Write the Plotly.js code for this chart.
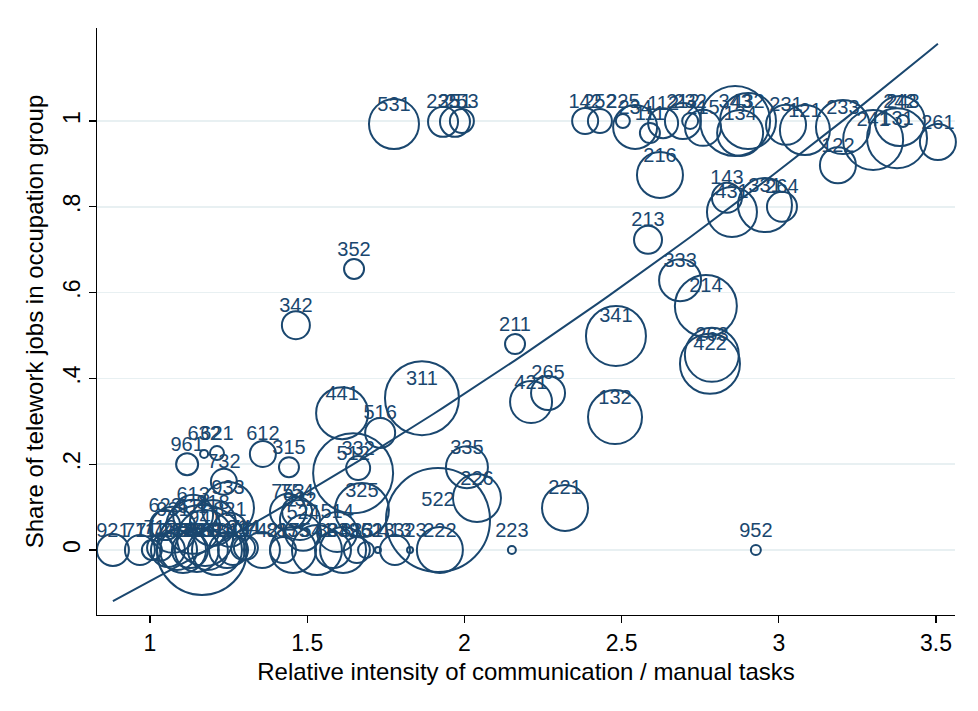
<!DOCTYPE html>
<html>
<head>
<meta charset="utf-8">
<script src="https://cdn.plot.ly/plotly-3.0.1.min.js"></script>
<style>
  html, body { margin: 0; padding: 0; background: #ffffff; }
  #chart { width: 978px; height: 711px; }
</style>
</head>
<body>
<div id="chart"></div>
<script>
// ISCO 3-digit occupation groups
const occCodes = [
  '142','252','225','234','111','216','112','212','232','215','343','432','134','231','121','233','122',
  '242','243','241','131','261',
  '143','431','331','264',
  '213','333','214','263','422','211','341','421','265','132',
  '531','235','251','253',
  '342','352','441','516','311','315','512','332','325','335','226','522','222','223','221','952',
  '612','961','632','621','732','933','613',
  '921','711','712','713','721','722','723','731','751','911','752','811','812','813','814',
  '931','611','818','821','622','941',
  '741','742','817','835','541','834','832','833','962','513','413','323',
  '753','754','932','524','514'
];

// Relative intensity of communication / manual tasks
const commManual = [
  2.384,2.431,2.504,2.543,2.590,2.622,2.632,2.695,2.718,2.759,2.861,2.902,2.877,3.023,3.083,3.204,3.188,
  3.385,3.395,3.300,3.376,3.506,
  2.835,2.851,2.956,3.010,
  2.584,2.686,2.768,2.787,2.781,2.161,2.482,2.212,2.266,2.479,
  1.776,1.932,1.970,1.992,
  1.464,1.649,1.611,1.732,1.865,1.442,1.646,1.662,1.674,2.008,2.040,1.916,1.922,2.151,2.320,2.927,
  1.359,1.118,1.172,1.213,1.235,1.248,1.137,
  0.882,0.968,1.006,1.032,1.057,1.086,1.105,1.127,1.149,1.165,1.184,1.213,1.245,1.264,1.296,
  1.073,1.137,1.200,1.254,1.048,1.175,
  1.305,1.356,1.423,1.455,1.531,1.582,1.614,1.658,1.687,1.725,1.779,1.827,
  1.439,1.468,1.477,1.487,1.595
];

// Share of telework jobs in occupation group
const teleShare = [
  1.000,1.000,1.000,0.986,0.972,0.874,0.995,1.000,1.000,0.984,1.000,1.000,0.972,0.991,0.979,0.986,0.897,
  1.000,1.000,0.956,0.960,0.951,
  0.821,0.788,0.804,0.800,
  0.723,0.629,0.569,0.455,0.434,0.480,0.499,0.345,0.366,0.310,
  0.993,0.998,0.998,1.000,
  0.524,0.655,0.319,0.273,0.354,0.193,0.179,0.191,0.093,0.193,0.121,0.070,0.000,0.000,0.098,0.000,
  0.224,0.200,0.224,0.226,0.159,0.098,0.082,
  0.000,0.000,0.000,0.005,0.000,0.000,0.000,0.000,0.000,0.000,0.000,0.000,0.000,0.000,0.005,
  0.047,0.054,0.063,0.047,0.058,0.028,
  0.005,0.000,0.000,0.000,0.000,0.000,0.000,0.000,0.000,0.000,0.000,0.000,
  0.089,0.089,0.070,0.040,0.042
];

// Employment weight of each group (bubble area)
const employment = [
  338,288,98,968,200,1058,450,648,128,648,2450,1568,1058,800,1250,1458,648,
  1250,72,1800,1800,648,
  450,1250,1458,450,
  392,882,1922,1458,1800,200,1800,882,578,1458,
  1250,450,450,288,
  392,200,1352,450,2738,200,3200,288,1458,882,1152,5408,1058,32,1058,50,
  338,242,32,98,338,1352,800,
  512,450,200,338,578,800,1058,648,968,4050,800,1250,648,450,288,
  1058,1458,1058,578,450,1568,
  288,648,338,1058,1250,648,1058,338,128,18,450,18,
  648,450,800,648,800
];

// Quadratic fit of share on task intensity: c, b, a
const qfitCoef = [-0.4261, 0.3112, 0.0419];

const xTicks = [1, 1.5, 2, 2.5, 3, 3.5];
const xTickText = ['1', '1.5', '2', '2.5', '3', '3.5'];
const yTicks = [0, 0.2, 0.4, 0.6, 0.8, 1];
const yTickText = ['0', '.2', '.4', '.6', '.8', '1'];

const navy = '#1a476f';
const font = 'Liberation Sans, Arial, Helvetica, sans-serif';

// fitted curve over the observed range
const xMin = Math.min(...commManual);
const xMax = Math.max(...commManual);
const fitX = [], fitY = [];
for (let i = 0; i <= 80; i++) {
  const x = xMin + (xMax - xMin) * i / 80;
  fitX.push(x);
  fitY.push(qfitCoef[0] + qfitCoef[1] * x + qfitCoef[2] * x * x);
}

const bubbles = {
  type: 'scatter', mode: 'markers',
  x: commManual, y: teleShare,
  marker: {
    symbol: 'circle-open', color: navy, opacity: 1,
    size: employment, sizemode: 'area', sizeref: 1,
    line: { width: 2, color: navy }
  },
  hoverinfo: 'skip', showlegend: false, cliponaxis: false
};

const labels = {
  type: 'scatter', mode: 'markers+text',
  x: commManual, y: teleShare, text: occCodes,
  textposition: 'top center',
  textfont: { family: font, size: 20, color: navy },
  marker: { size: 12, color: 'rgba(0,0,0,0)' },
  hoverinfo: 'skip', showlegend: false, cliponaxis: false
};

const fit = {
  type: 'scatter', mode: 'lines',
  x: fitX, y: fitY,
  line: { color: navy, width: 2 },
  hoverinfo: 'skip', showlegend: false
};

const layout = {
  width: 978, height: 711,
  margin: { l: 97, r: 23, t: 28, b: 96 },
  paper_bgcolor: '#ffffff', plot_bgcolor: '#ffffff',
  font: { family: font, size: 23, color: '#000000' },
  showlegend: false,
  xaxis: {
    range: [0.8314, 3.5604],
    tickvals: xTicks, ticktext: xTickText,
    ticks: 'outside', ticklen: 7, tickwidth: 1.3, tickcolor: '#000000',
    showline: true, linecolor: '#000000', linewidth: 1.3,
    showgrid: false, zeroline: false,
    tickfont: { family: font, size: 23 },
    title: { text: 'Relative intensity of communication / manual tasks', font: { family: font, size: 24 }, standoff: 8 }
  },
  yaxis: {
    range: [-0.1515, 1.2168],
    tickvals: yTicks, ticktext: yTickText, tickangle: -90,
    ticks: 'outside', ticklen: 7, tickwidth: 1.3, tickcolor: '#000000',
    showline: true, linecolor: '#000000', linewidth: 1.3,
    showgrid: true, gridcolor: '#e8f0f2', gridwidth: 1.6, zeroline: false,
    tickfont: { family: font, size: 23 },
    title: { text: 'Share of telework jobs in occupation group', font: { family: font, size: 24 }, standoff: 8 }
  }
};

Plotly.newPlot('chart', [fit, bubbles, labels], layout, { staticPlot: true, displayModeBar: false });
</script>
</body>
</html>
